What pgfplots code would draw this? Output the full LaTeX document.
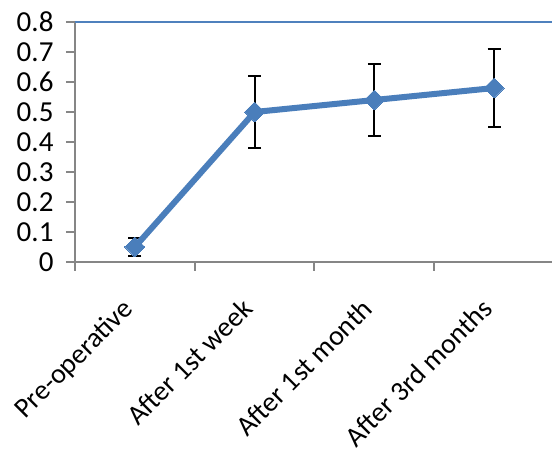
\documentclass[border=0pt]{standalone}
\usepackage{fontspec}
\setmainfont{Carlito}
\usepackage{pgfplots}
\pgfplotsset{compat=1.18}
\definecolor{serblue}{HTML}{4A7EBB}
\definecolor{topblue}{HTML}{4F81BD}
\definecolor{axgray}{HTML}{868686}
\begin{document}
\begin{tikzpicture}
\begin{axis}[
    scale only axis,
    width=479pt, height=240pt,
    xmin=-0.5, xmax=3.5,
    ymin=0, ymax=0.8,
    axis x line*=bottom, axis y line*=left,
    axis line style={axgray, line width=2pt},
    xtick={0,1,2,3},
    xticklabels={Pre-operative, After 1st week, After 1st month, After 3rd months},
    minor xtick={-0.5,0.5,1.5,2.5,3.5},
    ytick={0,0.1,...,0.8},
    yticklabel style={/pgf/number format/fixed, /pgf/number format/precision=1},
    /pgf/number format/assume math mode=true,
    tick align=outside,
    major tick length=9pt, minor tick length=9pt,
    x tick style={draw=none},
    minor x tick style={draw=axgray, line width=2pt},
    y tick style={axgray, line width=2pt},
    tick label style={font=\fontsize{29}{33}\selectfont},
    xticklabel style={xshift=-14pt, yshift=-23pt, rotate=45, anchor=north east, inner sep=2pt,
        font=\fontsize{28}{32}\selectfont},
    yticklabel style={xshift=-9pt},
    clip=false,
]
\coordinate (O) at (rel axis cs:0,0);
\draw[topblue, line width=1.5pt] (rel axis cs:0,1) -- (rel axis cs:1,1);
% error bars behind the line
\addplot[draw=none, mark=none,
    error bars/.cd, y dir=both, y explicit,
    error bar style={black, line width=2pt},
    error mark options={rotate=90, mark size=6.5pt, line width=2pt, black}]
    coordinates {
    (0, 0.05) +- (0, 0.03)
    (1, 0.50) +- (0, 0.12)
    (2, 0.54) +- (0, 0.12)
    (3, 0.58) +- (0, 0.13)
};
\addplot[serblue, line width=6pt, mark=square*, mark size=7pt,
    mark options={rotate=45, line width=0pt, fill=serblue, draw=serblue}]
    coordinates {
    (0, 0.05)
    (1, 0.50)
    (2, 0.54)
    (3, 0.58)
};
\end{axis}
\pgfresetboundingbox
\path ([shift={(-75pt,-187pt)}]O) rectangle ([shift={(477pt,262pt)}]O);
\end{tikzpicture}
\end{document}
